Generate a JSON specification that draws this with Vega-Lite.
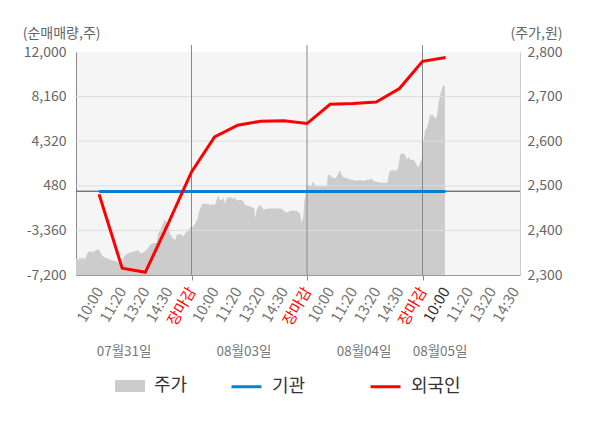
{
  "$schema": "https://vega.github.io/schema/vega-lite/v6.json",
  "width": 444,
  "height": 223,
  "autosize": {"type": "none"},
  "padding": {"left": 76, "top": 52, "right": 80, "bottom": 153},
  "background": "white",
  "config": {
    "font": "Noto Sans CJK KR",
    "view": {"fill": "#f5f5f5", "stroke": null}
  },
  "datasets": {
    "price": [
      {"t": 0.00, "p": 2337}, {"t": 0.10, "p": 2334}, {"t": 0.17, "p": 2340}, {"t": 0.25, "p": 2335},
      {"t": 0.32, "p": 2340}, {"t": 0.39, "p": 2334}, {"t": 0.46, "p": 2345}, {"t": 0.53, "p": 2352},
      {"t": 0.75, "p": 2352}, {"t": 0.89, "p": 2356}, {"t": 0.97, "p": 2358}, {"t": 1.04, "p": 2352},
      {"t": 1.11, "p": 2345}, {"t": 1.18, "p": 2342}, {"t": 1.33, "p": 2337}, {"t": 1.47, "p": 2335},
      {"t": 1.62, "p": 2332}, {"t": 1.76, "p": 2330}, {"t": 1.90, "p": 2326}, {"t": 1.98, "p": 2318},
      {"t": 2.05, "p": 2338}, {"t": 2.12, "p": 2345}, {"t": 2.27, "p": 2349}, {"t": 2.41, "p": 2351},
      {"t": 2.55, "p": 2353}, {"t": 2.70, "p": 2356}, {"t": 2.77, "p": 2350}, {"t": 2.91, "p": 2350},
      {"t": 3.06, "p": 2356}, {"t": 3.20, "p": 2367}, {"t": 3.35, "p": 2372}, {"t": 3.49, "p": 2372},
      {"t": 3.56, "p": 2393}, {"t": 3.64, "p": 2401}, {"t": 3.78, "p": 2416}, {"t": 3.85, "p": 2425},
      {"t": 3.93, "p": 2416}, {"t": 4.00, "p": 2408}, {"t": 4.07, "p": 2393}, {"t": 4.14, "p": 2387},
      {"t": 4.21, "p": 2382}, {"t": 4.29, "p": 2378}, {"t": 4.36, "p": 2390}, {"t": 4.50, "p": 2392},
      {"t": 4.65, "p": 2387}, {"t": 4.72, "p": 2393}, {"t": 4.86, "p": 2401}, {"t": 4.95, "p": 2407},
      {"t": 5.05, "p": 2408}, {"t": 5.12, "p": 2412}, {"t": 5.19, "p": 2419}, {"t": 5.27, "p": 2427},
      {"t": 5.32, "p": 2442}, {"t": 5.41, "p": 2453}, {"t": 5.47, "p": 2460}, {"t": 5.73, "p": 2460},
      {"t": 5.80, "p": 2455}, {"t": 5.87, "p": 2459}, {"t": 6.02, "p": 2457}, {"t": 6.09, "p": 2468},
      {"t": 6.16, "p": 2479}, {"t": 6.23, "p": 2468}, {"t": 6.31, "p": 2468}, {"t": 6.38, "p": 2474},
      {"t": 6.45, "p": 2460}, {"t": 6.52, "p": 2472}, {"t": 6.59, "p": 2474}, {"t": 6.74, "p": 2474},
      {"t": 6.81, "p": 2470}, {"t": 6.88, "p": 2475}, {"t": 6.96, "p": 2466}, {"t": 7.03, "p": 2468},
      {"t": 7.17, "p": 2468}, {"t": 7.24, "p": 2464}, {"t": 7.32, "p": 2457}, {"t": 7.46, "p": 2455},
      {"t": 7.61, "p": 2452}, {"t": 7.72, "p": 2449}, {"t": 7.75, "p": 2427}, {"t": 7.82, "p": 2446},
      {"t": 7.89, "p": 2453}, {"t": 7.97, "p": 2457}, {"t": 8.04, "p": 2453}, {"t": 8.11, "p": 2447},
      {"t": 8.33, "p": 2449}, {"t": 8.90, "p": 2449}, {"t": 8.97, "p": 2446}, {"t": 9.05, "p": 2442},
      {"t": 9.19, "p": 2440}, {"t": 9.26, "p": 2444}, {"t": 9.55, "p": 2444}, {"t": 9.62, "p": 2440},
      {"t": 9.70, "p": 2438}, {"t": 9.77, "p": 2416}, {"t": 9.84, "p": 2431}, {"t": 9.89, "p": 2468},
      {"t": 9.94, "p": 2479}, {"t": 10.00, "p": 2500}, {"t": 10.06, "p": 2502}, {"t": 10.20, "p": 2500},
      {"t": 10.25, "p": 2510}, {"t": 10.35, "p": 2502}, {"t": 10.43, "p": 2499}, {"t": 10.86, "p": 2499},
      {"t": 10.90, "p": 2524}, {"t": 11.00, "p": 2524}, {"t": 11.07, "p": 2519}, {"t": 11.21, "p": 2517},
      {"t": 11.28, "p": 2520}, {"t": 11.35, "p": 2528}, {"t": 11.43, "p": 2535}, {"t": 11.50, "p": 2524},
      {"t": 11.57, "p": 2519}, {"t": 11.72, "p": 2517}, {"t": 11.86, "p": 2514}, {"t": 12.00, "p": 2513},
      {"t": 12.15, "p": 2511}, {"t": 12.29, "p": 2513}, {"t": 12.44, "p": 2511}, {"t": 12.58, "p": 2513},
      {"t": 12.73, "p": 2514}, {"t": 12.80, "p": 2517}, {"t": 12.87, "p": 2511}, {"t": 13.01, "p": 2509},
      {"t": 13.16, "p": 2507}, {"t": 13.48, "p": 2507}, {"t": 13.52, "p": 2520}, {"t": 13.59, "p": 2534},
      {"t": 13.74, "p": 2535}, {"t": 13.88, "p": 2534}, {"t": 13.95, "p": 2543}, {"t": 14.03, "p": 2569},
      {"t": 14.10, "p": 2573}, {"t": 14.24, "p": 2571}, {"t": 14.31, "p": 2558}, {"t": 14.39, "p": 2565},
      {"t": 14.46, "p": 2559}, {"t": 14.60, "p": 2558}, {"t": 14.68, "p": 2554}, {"t": 14.75, "p": 2546},
      {"t": 14.82, "p": 2541}, {"t": 14.89, "p": 2550}, {"t": 14.97, "p": 2561}, {"t": 15.01, "p": 2599},
      {"t": 15.04, "p": 2599}, {"t": 15.11, "p": 2625}, {"t": 15.18, "p": 2629}, {"t": 15.25, "p": 2640},
      {"t": 15.32, "p": 2658}, {"t": 15.47, "p": 2658}, {"t": 15.54, "p": 2651}, {"t": 15.62, "p": 2655},
      {"t": 15.69, "p": 2685}, {"t": 15.76, "p": 2703}, {"t": 15.84, "p": 2718}, {"t": 15.91, "p": 2726},
      {"t": 15.97, "p": 2722}
    ],
    "flow": [
      {"t": 1, "inst": 0, "frgn": -250},
      {"t": 2, "inst": 0, "frgn": -6620},
      {"t": 3, "inst": 0, "frgn": -6970},
      {"t": 4, "inst": 0, "frgn": -2730},
      {"t": 5, "inst": 0, "frgn": 1680},
      {"t": 6, "inst": 0, "frgn": 4690},
      {"t": 7, "inst": 0, "frgn": 5700},
      {"t": 8, "inst": 0, "frgn": 6040},
      {"t": 9, "inst": 0, "frgn": 6070},
      {"t": 10, "inst": 0, "frgn": 5840},
      {"t": 11, "inst": 0, "frgn": 7500},
      {"t": 12, "inst": 0, "frgn": 7560},
      {"t": 13, "inst": 0, "frgn": 7690},
      {"t": 14, "inst": 0, "frgn": 8850},
      {"t": 15, "inst": 0, "frgn": 11200},
      {"t": 16, "inst": 0, "frgn": 11520}
    ],
    "closes": [{"t": 5}, {"t": 10}, {"t": 15}],
    "grid": [{"v": -3360}, {"v": 480}, {"v": 4320}, {"v": 8160}],
    "dates": [
      {"t": 2.08, "label": "07월31일"},
      {"t": 7.27, "label": "08월03일"},
      {"t": 12.47, "label": "08월04일"},
      {"t": 15.76, "label": "08월05일"}
    ]
  },
  "layer": [
    {
      "data": {"name": "price"},
      "mark": {"type": "area", "interpolate": "linear", "opacity": 1},
      "encoding": {
        "x": {
          "field": "t",
          "type": "quantitative",
          "scale": {"domain": [0, 19.22], "nice": false, "zero": false},
          "axis": {
            "title": null,
            "values": [1, 2, 3, 4, 5, 6, 7, 8, 9, 10, 11, 12, 13, 14, 15, 16, 17, 18, 19],
            "tickCount": 40,
            "labelExpr": "['장마감','10:00','11:20','13:20','14:30'][datum.value % 5]",
            "labelAngle": -60,
            "labelAlign": "right",
            "labelBaseline": "middle",
            "labelFontSize": 15,
            "labelPadding": 8,
            "labelOverlap": false,
            "labelFlush": false,
            "labelBound": false,
            "labelColor": {
              "condition": [
                {"test": "datum.value % 5 == 0", "value": "#ff0000"},
                {"test": "datum.value == 16", "value": "#333333"}
              ],
              "value": "#777777"
            },
            "ticks": true,
            "tickSize": 5,
            "tickColor": "#888888",
            "tickOpacity": {"condition": {"test": "datum.value % 5 == 0", "value": 1}, "value": 0},
            "grid": false,
            "domainColor": "#999999"
          }
        },
        "y": {
          "field": "p",
          "type": "quantitative",
          "scale": {"domain": [2300, 2800], "nice": false, "zero": false},
          "axis": {
            "orient": "right",
            "values": [2300, 2400, 2500, 2600, 2700, 2800],
            "format": ",.0f",
            "labelFontSize": 14,
            "labelColor": "#666666",
            "labelPadding": 7,
            "ticks": false,
            "grid": false,
            "domainColor": "#cccccc",
            "title": "(주가,원)",
            "titleAngle": 0,
            "titleAlign": "right",
            "titleBaseline": "middle",
            "titleX": 42,
            "titleY": -19,
            "titleFontSize": 14,
            "titleFontWeight": "normal",
            "titleColor": "#666666"
          }
        },
        "y2": {"datum": 2300},
        "fill": {
          "datum": "주가",
          "type": "nominal",
          "scale": {"domain": ["주가"], "range": ["#cccccc"]},
          "legend": {
            "orient": "none",
            "legendX": 38,
            "legendY": 318,
            "title": null,
            "symbolType": "M-1,-0.4H1V0.4H-1Z",
            "symbolSize": 900,
            "symbolOpacity": 1,
            "labelFontSize": 18,
            "labelColor": "#333333",
            "labelOffset": 8
          }
        }
      }
    },
    {
      "layer": [
        {
          "data": {"name": "grid"},
          "mark": {"type": "rule", "color": "#dddddd", "strokeWidth": 1},
          "encoding": {"y": {"field": "v", "type": "quantitative"}}
        },
        {
          "data": {"name": "closes"},
          "mark": {"type": "rule", "color": "#888888", "strokeWidth": 1},
          "encoding": {
            "x": {"field": "t", "type": "quantitative"},
            "y": {"datum": -7200},
            "y2": {"datum": 12600}
          }
        },
        {
          "data": {"name": "grid"},
          "mark": {"type": "rule", "color": "#777777", "strokeWidth": 1},
          "encoding": {"y": {"datum": 0}}
        },
        {
          "data": {"name": "flow"},
          "mark": {"type": "line", "strokeWidth": 3},
          "encoding": {
            "x": {"field": "t", "type": "quantitative"},
            "y": {"field": "inst", "type": "quantitative"},
            "stroke": {
              "datum": "기관",
              "type": "nominal",
              "scale": {"domain": ["기관", "외국인"], "range": ["#0a7fd0", "#ff0000"]},
              "legend": {
                "orient": "none",
                "legendX": 154,
                "legendY": 318,
                "direction": "horizontal",
                "title": null,
                "symbolType": "stroke",
                "symbolSize": 900,
                "symbolStrokeWidth": 3,
                "symbolOpacity": 1,
                "labelFontSize": 18,
                "labelColor": "#333333",
                "labelOffset": 9,
                "columnPadding": 58
              }
            }
          }
        },
        {
          "data": {"name": "flow"},
          "mark": {"type": "line", "strokeWidth": 3},
          "encoding": {
            "x": {"field": "t", "type": "quantitative"},
            "y": {
              "field": "frgn",
              "type": "quantitative",
              "scale": {"domain": [-7200, 12000], "nice": false, "zero": false},
              "axis": {
                "orient": "left",
                "values": [-7200, -3360, 480, 4320, 8160, 12000],
                "labelExpr": "replace(format(datum.value, ','), '−', '-')",
                "labelFontSize": 14,
                "labelColor": "#666666",
                "labelPadding": 10,
                "ticks": false,
                "grid": false,
                "domainColor": "#888888",
                "title": "(순매매량,주)",
                "titleAngle": 0,
                "titleAlign": "right",
                "titleBaseline": "middle",
                "titleX": 24,
                "titleY": -19,
                "titleFontSize": 14,
                "titleFontWeight": "normal",
                "titleColor": "#666666"
              }
            },
            "stroke": {"datum": "외국인", "type": "nominal"}
          }
        },
        {
          "data": {"name": "dates"},
          "mark": {"type": "text", "fontSize": 13.5, "color": "#777777", "align": "center", "baseline": "middle"},
          "encoding": {
            "x": {"field": "t", "type": "quantitative"},
            "y": {"datum": -13820},
            "text": {"field": "label"}
          }
        }
      ]
    }
  ],
  "resolve": {"scale": {"y": "independent"}}
}
